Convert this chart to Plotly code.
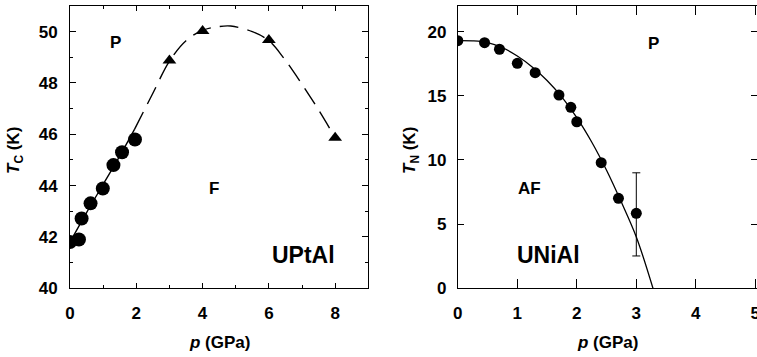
import plotly.graph_objects as go

# ---------------- data ----------------
# UPtAl (left panel)
uptal_p_circ = [0.0, 0.27, 0.35, 0.62, 0.99, 1.31, 1.57, 1.96]
uptal_t_circ = [41.8, 41.9, 42.72, 43.31, 43.89, 44.8, 45.3, 45.8]
uptal_p_tri = [3.0, 4.0, 6.0, 8.0]
uptal_t_tri = [48.88, 50.03, 49.68, 45.87]
# guide curve
uptal_fit_solid_p = [0.0, 0.5, 1.0, 1.5, 1.95]
uptal_fit_solid_t = [41.8, 42.95, 44.05, 45.15, 46.2]
uptal_fit_dash_p = [1.95, 2.5, 3.0, 3.5, 4.0, 4.5, 4.85, 5.5, 6.0, 6.45, 7.0, 7.5, 8.0]
uptal_fit_dash_t = [46.2, 47.6, 48.85, 49.65, 50.05, 50.2, 50.22, 50.0, 49.65, 48.97, 47.95, 46.95, 45.87]

# UNiAl (right panel)
unial_p = [0.0, 0.45, 0.70, 1.0, 1.3, 1.7, 1.9, 2.0, 2.41, 2.70, 3.0]
unial_t = [19.3, 19.14, 18.63, 17.53, 16.8, 15.06, 14.1, 12.98, 9.79, 7.01, 5.84]
unial_err_plus = [0, 0, 0, 0, 0, 0, 0, 0, 0, 0, 3.16]
unial_err_minus = [0, 0, 0, 0, 0, 0, 0, 0, 0, 0, 3.32]
unial_fit_p = [0.0, 0.25, 0.5, 0.75, 1.0, 1.25, 1.5, 1.75, 2.0, 2.25, 2.5, 2.75, 3.0, 3.28]
unial_fit_t = [19.3, 19.28, 19.15, 18.75, 18.1, 17.25, 16.2, 14.9, 13.3, 11.4, 9.2, 6.7, 4.0, 0.0]

FONT = "Liberation Sans, Arial, Helvetica, sans-serif"
W, H = 757, 357

fig = go.Figure()

# left panel
fig.add_trace(go.Scatter(x=uptal_fit_solid_p, y=uptal_fit_solid_t, mode="lines",
                         line=dict(color="black", width=1.4, shape="spline"),
                         xaxis="x", yaxis="y", showlegend=False))
fig.add_trace(go.Scatter(x=uptal_fit_dash_p, y=uptal_fit_dash_t, mode="lines",
                         line=dict(color="black", width=1.4, shape="spline", dash="19px,9px"),
                         xaxis="x", yaxis="y", showlegend=False))
fig.add_trace(go.Scatter(x=uptal_p_circ, y=uptal_t_circ, mode="markers",
                         marker=dict(symbol="circle", size=14, color="black"),
                         xaxis="x", yaxis="y", showlegend=False))
fig.add_trace(go.Scatter(x=uptal_p_tri, y=uptal_t_tri, mode="markers",
                         marker=dict(symbol="triangle-up", size=12, color="black"),
                         xaxis="x", yaxis="y", showlegend=False))

# right panel
fig.add_trace(go.Scatter(x=unial_fit_p, y=unial_fit_t, mode="lines",
                         line=dict(color="black", width=1.3, shape="spline"),
                         xaxis="x2", yaxis="y2", showlegend=False))
fig.add_trace(go.Scatter(x=unial_p, y=unial_t, mode="markers",
                         marker=dict(symbol="circle", size=11, color="black"),
                         error_y=dict(type="data", symmetric=False, array=unial_err_plus,
                                      arrayminus=unial_err_minus, color="black",
                                      thickness=1, width=4),
                         xaxis="x2", yaxis="y2", showlegend=False))

tickfont = dict(family=FONT, size=17, color="black", weight="bold")

def ax(**kw):
    d = dict(showline=True, linecolor="black", linewidth=1, mirror="ticks",
             ticks="inside", tickcolor="black", tickwidth=1,
             showgrid=False, zeroline=False, tickfont=tickfont, automargin=False,
             ticklabeloverflow="allow")
    d.update(kw)
    return d

ydom = [1 - 288.3 / H, 1 - 6.0 / H]
fig.update_layout(
    width=W, height=H,
    margin=dict(l=0, r=0, t=0, b=0),
    plot_bgcolor="white", paper_bgcolor="white",
    xaxis=ax(domain=[70 / W, 368.3 / W], range=[0, 9], dtick=2, tick0=0, ticklen=5,
             minor=dict(dtick=1, ticks="inside", ticklen=3, tickcolor="black"),
             anchor="y", ticklabelstandoff=9),
    yaxis=ax(domain=ydom, range=[40, 51], dtick=2, tick0=40, ticklen=6,
             minor=dict(dtick=1, ticks="inside", ticklen=3, tickcolor="black"),
             anchor="x", ticklabelstandoff=8),
    xaxis2=ax(domain=[457.8 / W, 756.5 / W], range=[0, 5.02], dtick=1, tick0=0, ticklen=9,
              anchor="y2", ticklabelstandoff=9),
    yaxis2=ax(domain=ydom, range=[0, 22], dtick=5, tick0=0, ticklen=6,
              anchor="x2", ticklabelstandoff=7),
)

bold = dict(family=FONT, color="black", weight="bold")
annos = [
    # axis titles
    dict(x=219 / W, y=1 - 342 / H, text="<i>p</i> (GPa)", font=dict(size=17, **bold)),
    dict(x=607 / W, y=1 - 342 / H, text="<i>p</i> (GPa)", font=dict(size=17, **bold)),
    dict(x=15 / W, y=1 - 151 / H, text="<i>T</i><sub>C</sub> (K)", textangle=-90,
         font=dict(size=17, **bold)),
    dict(x=411 / W, y=1 - 151 / H, text="<i>T</i><sub>N</sub> (K)", textangle=-90,
         font=dict(size=17, **bold)),
]
for a in annos:
    a.update(xref="paper", yref="paper", showarrow=False, xanchor="center", yanchor="middle")
labels = [
    dict(x=1.36, y=49.56, text="P", size=17, xref="x", yref="y"),
    dict(x=4.33, y=43.9, text="F", size=17, xref="x", yref="y"),
    dict(x=7.05, y=41.3, text="UPtAl", size=23, xref="x", yref="y"),
    dict(x=3.29, y=19.07, text="P", size=17, xref="x2", yref="y2"),
    dict(x=1.21, y=7.8, text="AF", size=17, xref="x2", yref="y2"),
    dict(x=1.52, y=2.6, text="UNiAl", size=23, xref="x2", yref="y2"),
]
for l in labels:
    annos.append(dict(x=l["x"], y=l["y"], text=l["text"], xref=l["xref"], yref=l["yref"],
                      showarrow=False, xanchor="center", yanchor="middle",
                      font=dict(size=l["size"], **bold)))
fig.update_layout(annotations=annos)

fig.write_html("out.html")
